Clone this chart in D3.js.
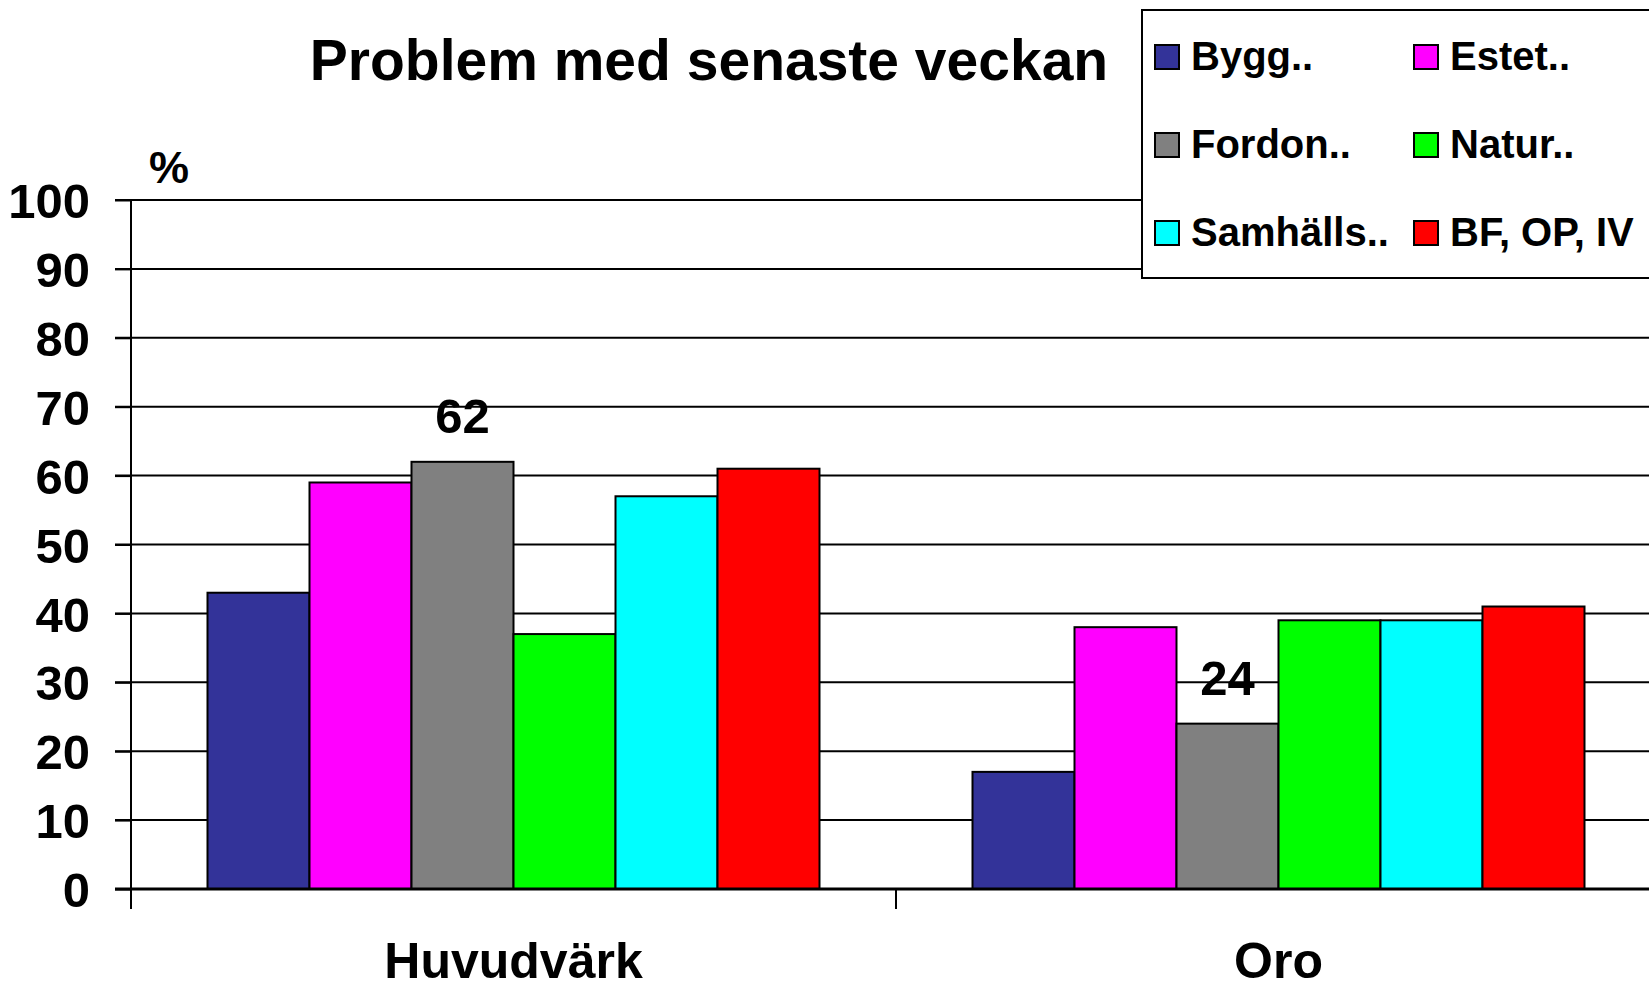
<!DOCTYPE html>
<html><head><meta charset="utf-8">
<script src="https://cdn.jsdelivr.net/npm/d3@7"></script>
<style>body{margin:0;background:#fff;overflow:hidden}svg{display:block}text{font-family:"Liberation Sans",Arial,sans-serif;font-weight:bold;fill:#000}</style>
</head><body><svg id="c" width="1649" height="984"></svg>
<script>
const categories = ["Huvudvärk", "Oro"];
const series = ["Bygg..", "Estet..", "Fordon..", "Natur..", "Samhälls..", "BF, OP, IV"];
const colors = ["#333399", "#FF00FF", "#808080", "#00FF00", "#00FFFF", "#FF0000"];
const values = {
  "Huvudvärk": [43, 59, 62, 37, 57, 61],
  "Oro": [17, 38, 24, 39, 39, 41]
};
const yTicks = [0, 10, 20, 30, 40, 50, 60, 70, 80, 90, 100];
const labelled = [{cat: "Huvudvärk", series: "Fordon..", value: 62}, {cat: "Oro", series: "Fordon..", value: 24}];
const legendOrder = [["Bygg..", "Estet.."], ["Fordon..", "Natur.."], ["Samhälls..", "BF, OP, IV"]];

const svg = d3.select("#c");
const L = 131, R = 1661, T = 200, B = 889;
const x0 = d3.scaleBand().domain(categories).range([L, R]).padding(0);
const bw = x0.bandwidth();
const x1 = d3.scaleBand().domain(series).range([bw * 0.1, bw * 0.9]).padding(0);
const y = d3.scaleLinear().domain([0, 100]).range([B, T]);
const color = d3.scaleOrdinal().domain(series).range(colors);

// gridlines
svg.append("g").selectAll("line").data(yTicks.filter(d => d > 0)).join("line")
  .attr("x1", L - 16).attr("x2", R).attr("y1", d => y(d)).attr("y2", d => y(d))
  .attr("stroke", "#000").attr("stroke-width", 2);

// bars
const g = svg.append("g").selectAll("g").data(categories).join("g")
  .attr("transform", d => `translate(${x0(d)},0)`);
g.selectAll("rect").data(c => series.map((s, i) => ({s, v: values[c][i]}))).join("rect")
  .attr("x", d => x1(d.s)).attr("width", x1.bandwidth())
  .attr("y", d => y(d.v)).attr("height", d => y(0) - y(d.v))
  .attr("fill", d => color(d.s)).attr("stroke", "#000").attr("stroke-width", 2);

// y axis
const yAxis = svg.append("g").attr("transform", `translate(${L},0)`)
  .call(d3.axisLeft(y).tickValues(yTicks).tickSize(16).tickPadding(25).tickFormat(d3.format("d")));
yAxis.select(".domain").remove();
yAxis.selectAll(".tick line").attr("stroke", "#000").attr("stroke-width", 2);
yAxis.selectAll("text").attr("font-size", 49).attr("dy", "0.36em").attr("font-family", '"Liberation Sans",Arial,sans-serif').attr("font-weight", "bold");
svg.append("line").attr("x1", L).attr("x2", L).attr("y1", T).attr("y2", B + 20).attr("stroke", "#000").attr("stroke-width", 2);

// x axis
svg.append("line").attr("x1", L - 16).attr("x2", R).attr("y1", B).attr("y2", B).attr("stroke", "#000").attr("stroke-width", 3);
svg.append("g").selectAll("line").data(categories.slice(1)).join("line")
  .attr("x1", d => x0(d)).attr("x2", d => x0(d)).attr("y1", B).attr("y2", B + 20)
  .attr("stroke", "#000").attr("stroke-width", 2);
svg.append("g").selectAll("text").data(categories).join("text")
  .attr("x", d => x0(d) + bw / 2).attr("y", 978).attr("text-anchor", "middle")
  .attr("font-size", 50).text(d => d);

// value labels
svg.append("g").selectAll("text").data(labelled).join("text")
  .attr("x", d => x0(d.cat) + x1(d.series) + x1.bandwidth() / 2)
  .attr("y", d => y(d.value) - 29).attr("text-anchor", "middle")
  .attr("font-size", 49).text(d => d.value);

// title and unit
svg.append("text").attr("x", 709).attr("y", 80).attr("text-anchor", "middle").attr("font-size", 57).text("Problem med senaste veckan");
svg.append("text").attr("x", 149).attr("y", 183).attr("font-size", 45).text("%");

// legend
const lg = svg.append("g");
lg.append("rect").attr("x", 1142).attr("y", 10).attr("width", 600).attr("height", 268)
  .attr("fill", "#fff").attr("stroke", "#000").attr("stroke-width", 2);
const colX = [1155, 1414], rowY = [45, 133, 221];
legendOrder.forEach((row, r) => row.forEach((s, c) => {
  lg.append("rect").attr("x", colX[c]).attr("y", rowY[r]).attr("width", 24).attr("height", 24)
    .attr("fill", color(s)).attr("stroke", "#000").attr("stroke-width", 2);
  lg.append("text").attr("x", colX[c] + 36).attr("y", rowY[r] + 25).attr("font-size", 40).text(s);
}));
</script></body></html>
